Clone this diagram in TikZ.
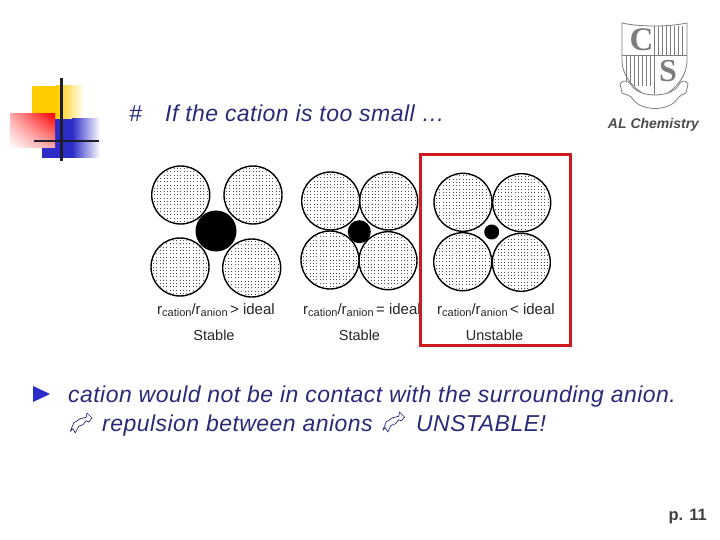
\documentclass[tikz,border=0pt]{standalone}
\usepackage{fontspec}
\usetikzlibrary{shadings}
\setmainfont{Liberation Sans}
\newfontfamily\serifbold{Liberation Serif}[BoldFont=* Bold]
\definecolor{navytext}{RGB}{42,42,120}
\definecolor{decoyellow}{RGB}{255,204,0}
\definecolor{decoblue}{RGB}{44,44,200}
\definecolor{boxred}{RGB}{204,26,30}
\definecolor{logogray}{RGB}{125,125,125}
\definecolor{bartone}{RGB}{30,30,45}
\definecolor{pinka}{RGB}{255,170,170}
\definecolor{pinkb}{RGB}{250,170,170}
\tikzset{
  anion/.style={circle,draw=black,line width=1.4pt,minimum size=58pt,inner sep=0pt},
  cation/.style={circle,fill=black,inner sep=0pt},
  ratiotext/.style={font=\fontsize{15}{16}\selectfont,text=black!85,inner sep=0pt,anchor=west},
  verdict/.style={font=\fontsize{14.5}{16}\selectfont,text=black!85,inner sep=0pt},
  bodytext/.style={font=\fontsize{23}{27}\selectfont\itshape\addfontfeature{LetterSpace=2},text=navytext,inner sep=0pt,anchor=base west},
  logoline/.style={draw=logogray,line width=0.8pt},
  pointer/.style={draw=navytext,line width=0.7pt,line join=round}
}
\newcommand{\aniondots}[3]{%
  \node[anion] (#1) at (#2,#3) {};
  \begin{scope}
    \clip (#2,#3) circle (27.5);
    \foreach \i in {-9,...,9}{
      \foreach \j in {-9,...,9}{
        \fill[black!70] ({#2+\i*3.3-0.5},{#3+\j*3.3-0.5}) rectangle ++(1,1);
      }
    }
  \end{scope}
}
\newcommand{\rratio}[1]{r\raisebox{-2.5pt}{\fontsize{11}{11}\selectfont cation}/r\raisebox{-2.5pt}{\fontsize{11}{11}\selectfont anion}\,#1 ideal}
\newcommand{\handarrow}[2]{%
  \draw[pointer,shift={(#1,#2)}] (-10.7,8.3) -- (-7.3,0) -- (-0.7,-4.3) -- (5.3,-5.7) -- (6,-10) -- (11,-5) -- (7.7,-1) -- (5.3,-2.3) -- (2,1.7) -- (-2.3,3.3) -- (-5.7,10) -- (-8,5.7) -- cycle;
}
\begin{document}
\begin{tikzpicture}[x=1pt,y=-1pt]
\useasboundingbox (0,0) rectangle (720,540);
\fill[white] (0,0) rectangle (720,540);

% corner decoration
\fill[decoyellow] (32,86) rectangle (56,119);
\shade[left color=decoyellow,right color=white] (56,86) rectangle (84,119);
\fill[decoblue] (42,119) rectangle (72,158);
\shade[left color=decoblue,right color=white] (72,119) rectangle (100,158);
\shade[upper right=red,upper left=pinka,lower right=pinkb,lower left=white] (10,114) rectangle (55,148);
\draw[bartone,line width=3pt] (61,78) -- (61,161);
\draw[bartone,line width=2.6pt] (34,141) -- (99,141);

% title
\node[bodytext] (hash) at (129,122) {\#};
\node[bodytext] (title) at (165,122) {If the cation is too small …};

% logo
\draw[logoline] (622,23) .. controls (640,27) and (668,27) .. (687,23) -- (687,60) .. controls (687,80) and (670,94) .. (655,100) .. controls (640,94) and (622,80) .. (622,60) -- cycle;
\draw[logoline] (654,26) -- (654,99);
\draw[logoline] (622,55) -- (687,55);
\foreach \x in {658,662,666,670,674,678,682}{\draw[logoline,line width=0.6pt] (\x,26) -- (\x,55);}
\foreach \x in {626,630,634,638,642,646,650}{\draw[logoline,line width=0.6pt] (\x,55) -- (\x,86);}
\node[font=\serifbold\bfseries\fontsize{33}{33}\selectfont,text=logogray,inner sep=0pt] (logoc) at (641.5,39.5) {C};
\node[font=\serifbold\bfseries\fontsize{32}{32}\selectfont,text=logogray,inner sep=0pt] (logos) at (668,71) {S};
\draw[logoline,fill=white] (620,84) .. controls (624,78) and (630,82) .. (632,86) .. controls (640,98) and (670,98) .. (678,86) .. controls (680,82) and (684,78) .. (688,84) -- (686,93) .. controls (682,95) and (680,95) .. (678,98) .. controls (670,112) and (640,112) .. (632,98) .. controls (630,95) and (626,95) .. (622,93) -- cycle;
\node[font=\fontsize{14}{15}\selectfont\bfseries\itshape,text=black!70,inner sep=0pt] (alchem) at (653.5,125) {AL Chemistry};

% panel 1
\aniondots{a1}{180.7}{195}
\aniondots{a2}{253}{195}
\aniondots{a3}{180}{267}
\aniondots{a4}{251.7}{268}
\node[cation,minimum size=41pt] (c1) at (216,231) {};
\node[ratiotext] (r1) at (157,310) {\rratio{>}};
\node[verdict] (s1) at (214,335) {Stable};

% panel 2
\aniondots{b1}{330.7}{201}
\aniondots{b2}{388.7}{201}
\aniondots{b3}{330}{260}
\aniondots{b4}{388}{260.7}
\node[cation,minimum size=23pt] (c2) at (359.3,231.7) {};
\node[ratiotext] (r2) at (303,310) {\rratio{=}};
\node[verdict] (s2) at (359.5,335) {Stable};

% panel 3
\aniondots{d1}{463}{202.3}
\aniondots{d2}{521.7}{202.7}
\aniondots{d3}{462.7}{261.7}
\aniondots{d4}{521.3}{262.3}
\node[cation,minimum size=15pt] (c3) at (491.7,232) {};
\node[ratiotext] (r3) at (437,310) {\rratio{<}};
\node[verdict] (s3) at (494.5,335) {Unstable};

\draw[boxred,line width=2.6pt] (420.7,154.7) rectangle (570.7,345.7);

% body text
\fill[decoblue] (33,386) -- (33,402) -- (50,394) -- cycle;
\node[bodytext] (line1) at (68,402) {cation would not be in contact with the surrounding anion.};
\handarrow{81}{423}
\node[bodytext] (line2a) at (102,431) {repulsion between anions};
\handarrow{393.5}{422}
\node[bodytext] (line2b) at (416,431) {UNSTABLE!};

% page number
\node[font=\fontsize{16.5}{18}\selectfont\bfseries,text=black!75,inner sep=0pt,anchor=east] (page) at (707,517) {p. 11};
\end{tikzpicture}
\end{document}
